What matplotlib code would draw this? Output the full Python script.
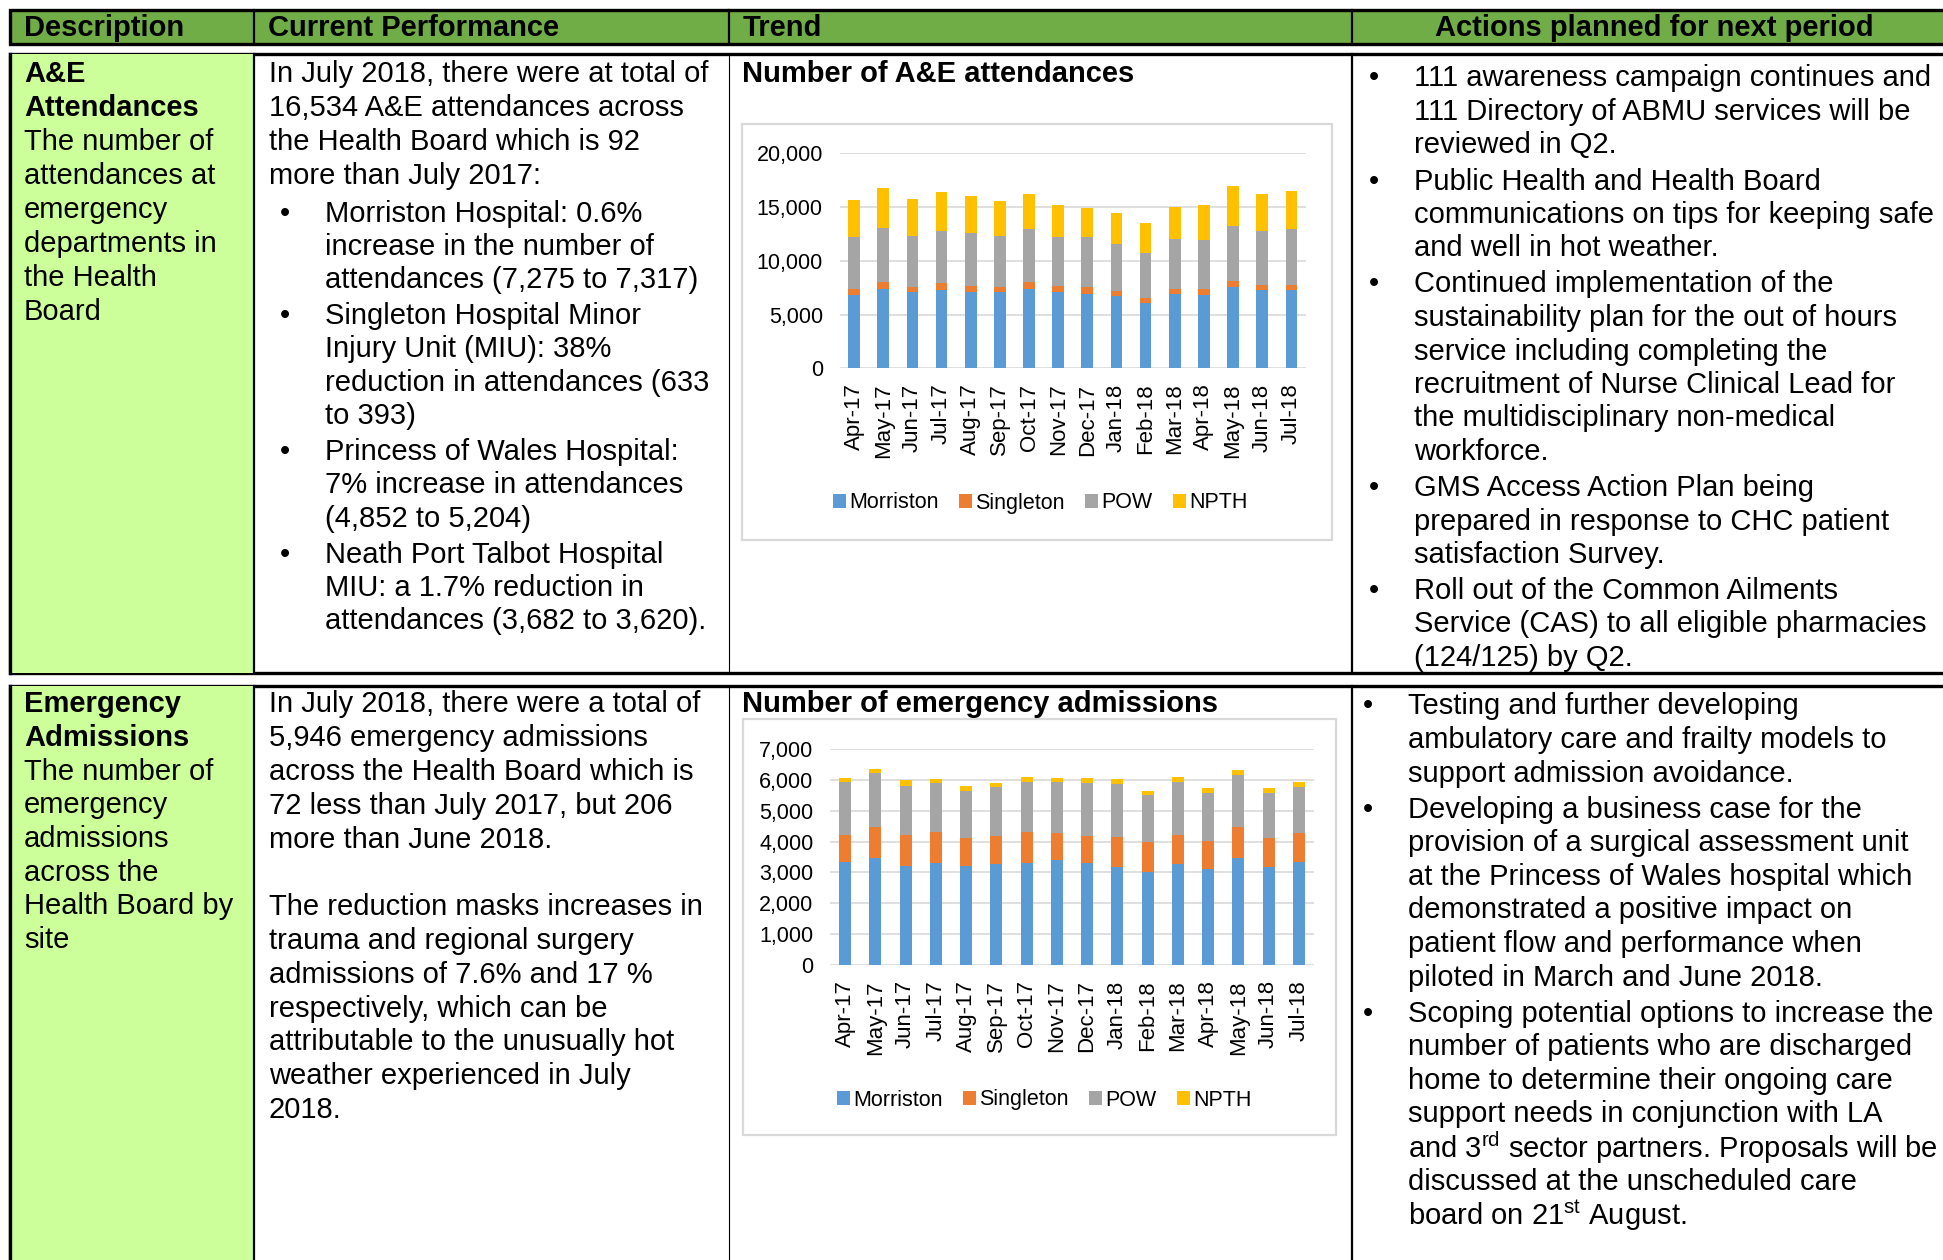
"""Unscheduled care report table: A&E attendances and emergency admissions."""

import matplotlib
matplotlib.use("Agg")
import matplotlib.pyplot as plt
import matplotlib.patches as mpatches
from matplotlib.ticker import FuncFormatter

plt.rcParams["font.family"] = ["Liberation Sans", "DejaVu Sans"]
plt.rcParams["mathtext.default"] = "regular"

W, H = 1943, 1260

# ---- data ----
months = ["Apr-17", "May-17", "Jun-17", "Jul-17", "Aug-17", "Sep-17", "Oct-17", "Nov-17",
          "Dec-17", "Jan-18", "Feb-18", "Mar-18", "Apr-18", "May-18", "Jun-18", "Jul-18"]
sites = ["Morriston", "Singleton", "POW", "NPTH"]
site_colors = ["#5B9BD5", "#ED7D31", "#A5A5A5", "#FFC000"]

ae_morriston = [6820, 7380, 7070, 7275, 7070, 7070, 7380, 7070, 6950, 6700, 6080, 6950, 6820, 7530, 7290, 7317]
ae_singleton = [560, 620, 460, 633, 590, 460, 620, 590, 580, 460, 490, 430, 560, 590, 490, 393]
ae_pow = [4810, 5020, 4780, 4852, 4900, 4780, 4930, 4530, 4660, 4440, 4190, 4680, 4560, 5150, 5000, 5204]
ae_npth = [3470, 3720, 3470, 3682, 3440, 3220, 3320, 2970, 2760, 2850, 2730, 2980, 3220, 3690, 3470, 3620]

em_morriston = [3350, 3480, 3220, 3310, 3220, 3270, 3310, 3400, 3310, 3180, 3020, 3270, 3110, 3480, 3180, 3350]
em_singleton = [870, 990, 1000, 1010, 880, 920, 1010, 870, 880, 970, 950, 950, 910, 990, 920, 920]
em_pow = [1720, 1760, 1590, 1580, 1550, 1580, 1620, 1670, 1710, 1700, 1550, 1720, 1540, 1680, 1460, 1500]
em_npth = [120, 120, 170, 118, 160, 130, 160, 120, 160, 170, 130, 160, 170, 160, 180, 176]

headers = ["Description", "Current Performance", "Trend", "Actions planned for next period"]

ae_desc = ["The number of", "attendances at", "emergency", "departments in", "the Health", "Board"]
ae_intro = ["In July 2018, there were at total of", "16,534 A&E attendances across",
            "the Health Board which is 92", "more than July 2017:"]
ae_bullets = [
    ["Morriston Hospital: 0.6%", "increase in the number of", "attendances (7,275 to 7,317)"],
    ["Singleton Hospital Minor", "Injury Unit (MIU): 38%", "reduction in attendances (633", "to 393)"],
    ["Princess of Wales Hospital:", "7% increase in attendances", "(4,852 to 5,204)"],
    ["Neath Port Talbot Hospital", "MIU: a 1.7% reduction in", "attendances (3,682 to 3,620)."],
]
ae_actions = [
    ["111 awareness campaign continues and", "111 Directory of ABMU services will be", "reviewed in Q2."],
    ["Public Health and Health Board", "communications on tips for keeping safe",
     "and well in hot weather."],
    ["Continued implementation of the", "sustainability plan for the out of hours",
     "service including completing the", "recruitment of Nurse Clinical Lead for",
     "the multidisciplinary non-medical", "workforce."],
    ["GMS Access Action Plan being", "prepared in response to CHC patient", "satisfaction Survey."],
    ["Roll out of the Common Ailments", "Service (CAS) to all eligible pharmacies", "(124/125) by Q2."],
]

em_desc = ["The number of", "emergency", "admissions", "across the", "Health Board by", "site"]
em_text = ["In July 2018, there were a total of", "5,946 emergency admissions",
           "across the Health Board which is", "72 less than July 2017, but 206",
           "more than June 2018.", "", "The reduction masks increases in",
           "trauma and regional surgery", "admissions of 7.6% and 17 %",
           "respectively, which can be", "attributable to the unusually hot",
           "weather experienced in July", "2018."]
em_actions = [
    ["Testing and further developing", "ambulatory care and frailty models to",
     "support admission avoidance."],
    ["Developing a business case for the", "provision of a surgical assessment unit",
     "at the Princess of Wales hospital which", "demonstrated a positive impact on",
     "patient flow and performance when", "piloted in March and June 2018."],
    ["Scoping potential options to increase the", "number of patients who are discharged",
     "home to determine their ongoing care", "support needs in conjunction with LA",
     "and 3$^{rd}$ sector partners. Proposals will be", "discussed at the unscheduled care",
     "board on 21$^{st}$ August."],
]

FS = 21
DY = 1.5  # small baseline nudge so lines sit like the Word original
HEADER_GREEN = "#70AD47"
DESC_GREEN = "#CCFF99"


def px(x, y):
    return x / W, 1 - y / H


def txt(ax, x, y, s, **kw):
    kw.setdefault("fontsize", FS)
    kw.setdefault("va", "center")
    kw.setdefault("ha", "left")
    ax.text(x, y + DY, s, **kw)


def lines_at(ax, x, y0, lines, step=33.7):
    for i, s in enumerate(lines):
        if s:
            txt(ax, x, y0 + i * step, s)


def bullets_at(ax, xb, xt, y0, items, step=33.5, gap=36.0):
    y = y0
    for item in items:
        txt(ax, xb, y, "\u2022")
        for i, s in enumerate(item):
            txt(ax, xt, y + i * step, s)
        y += (len(item) - 1) * step + gap


def stacked_chart(fig, rect, series, ymax, ystep, legend_xy):
    ax = fig.add_axes(rect)
    x = list(range(len(months)))
    bottom = [0] * len(months)
    for name, vals, col in zip(sites, series, site_colors):
        ax.bar(x, vals, 0.4, bottom=bottom, color=col, label=name, zorder=3)
        bottom = [b + v for b, v in zip(bottom, vals)]
    ax.set_xlim(-0.5, len(months) - 0.5)
    ax.set_ylim(0, ymax)
    ax.set_yticks(range(0, ymax + 1, ystep))
    ax.yaxis.set_major_formatter(FuncFormatter(lambda v, p: f"{int(v):,}"))
    ax.set_xticks(x)
    ax.set_xticklabels(months, rotation=90, fontsize=16)
    ax.tick_params(axis="y", labelsize=15.5, length=0, pad=12)
    ax.tick_params(axis="x", length=0, pad=11)
    ax.grid(axis="y", color="#D9D9D9", lw=1.2, zorder=0)
    for s in ax.spines.values():
        s.set_visible(False)
    ax.set_facecolor("none")
    ax.legend(loc="center", bbox_to_anchor=px(*legend_xy), bbox_transform=fig.transFigure,
              ncol=4, frameon=False, fontsize=15.5, handlelength=0.6, handleheight=0.6,
              handletextpad=0.15, columnspacing=0.95)
    return ax


def main():
    fig = plt.figure(figsize=(W / 100, H / 100), dpi=100)
    bg = fig.add_axes([0, 0, 1, 1])
    bg.set_xlim(0, W)
    bg.set_ylim(H, 0)
    bg.axis("off")

    thick, mid, thin = 2.4, 1.6, 0.8
    cols = [10, 254, 729, 1352]

    # header row
    bg.add_patch(mpatches.Rectangle((10, 10), W + 10, 34, facecolor=HEADER_GREEN,
                                    edgecolor="black", lw=thick))
    for c in cols[1:]:
        bg.plot([c, c], [10, 44], color="black", lw=mid)
    for c, h in zip(cols[:3], headers[:3]):
        txt(bg, c + 14, 26.5, h, fontweight="bold")
    txt(bg, 1654, 26.5, headers[3], fontweight="bold", ha="center")

    # body rows
    for top, bot in [(54, 673), (686, H + 10)]:
        bg.add_patch(mpatches.Rectangle((10, top), W + 10, bot - top, facecolor="white",
                                        edgecolor="black", lw=thick, zorder=1))
        bg.add_patch(mpatches.Rectangle((10, top), cols[1] - 10, bot - top, facecolor=DESC_GREEN,
                                        edgecolor="none", zorder=1.5))
        bg.plot([10, 10], [top, bot], color="black", lw=thick, zorder=2)
        bg.plot([cols[1]] * 2, [top, bot], color="black", lw=mid, zorder=2)
        bg.plot([cols[2]] * 2, [top, bot], color="black", lw=thin, zorder=2)
        bg.plot([cols[3]] * 2, [top, bot], color="black", lw=mid, zorder=2)

    # chart frames
    for x0, y0, x1, y1 in [(742, 124, 1332, 540), (743, 719, 1336, 1135)]:
        bg.add_patch(mpatches.Rectangle((x0, y0), x1 - x0, y1 - y0, facecolor="none",
                                        edgecolor="#D9D9D9", lw=1.6, zorder=3))

    # row 1 text
    txt(bg, 24, 73, "A&E", fontweight="bold")
    txt(bg, 24, 107, "Attendances", fontweight="bold")
    lines_at(bg, 24, 141, ae_desc, step=33.9)
    lines_at(bg, 269, 73, ae_intro, step=33.8)
    bullets_at(bg, 280, 325, 212, ae_bullets, step=33.3, gap=36.0)
    txt(bg, 742, 73, "Number of A&E attendances", fontweight="bold")
    bullets_at(bg, 1369, 1414, 77, ae_actions, step=33.5, gap=36.0)

    # row 2 text
    txt(bg, 24, 703, "Emergency", fontweight="bold")
    txt(bg, 24, 737, "Admissions", fontweight="bold")
    lines_at(bg, 24, 770, em_desc, step=33.7)
    lines_at(bg, 269, 703, em_text, step=33.8)
    txt(bg, 742, 703, "Number of emergency admissions", fontweight="bold")
    bullets_at(bg, 1363, 1408, 705, em_actions, step=33.6, gap=36.0)

    # charts
    stacked_chart(fig, [839.5 / W, 1 - 368.3 / H, 466.5 / W, 215 / H],
                  [ae_morriston, ae_singleton, ae_pow, ae_npth], 20000, 5000, (1040, 503))
    stacked_chart(fig, [830 / W, 1 - 965 / H, 484 / W, 216 / H],
                  [em_morriston, em_singleton, em_pow, em_npth], 7000, 1000, (1044, 1100))

    fig.savefig("out.png", dpi=100)
    plt.close(fig)


if __name__ == "__main__":
    main()
